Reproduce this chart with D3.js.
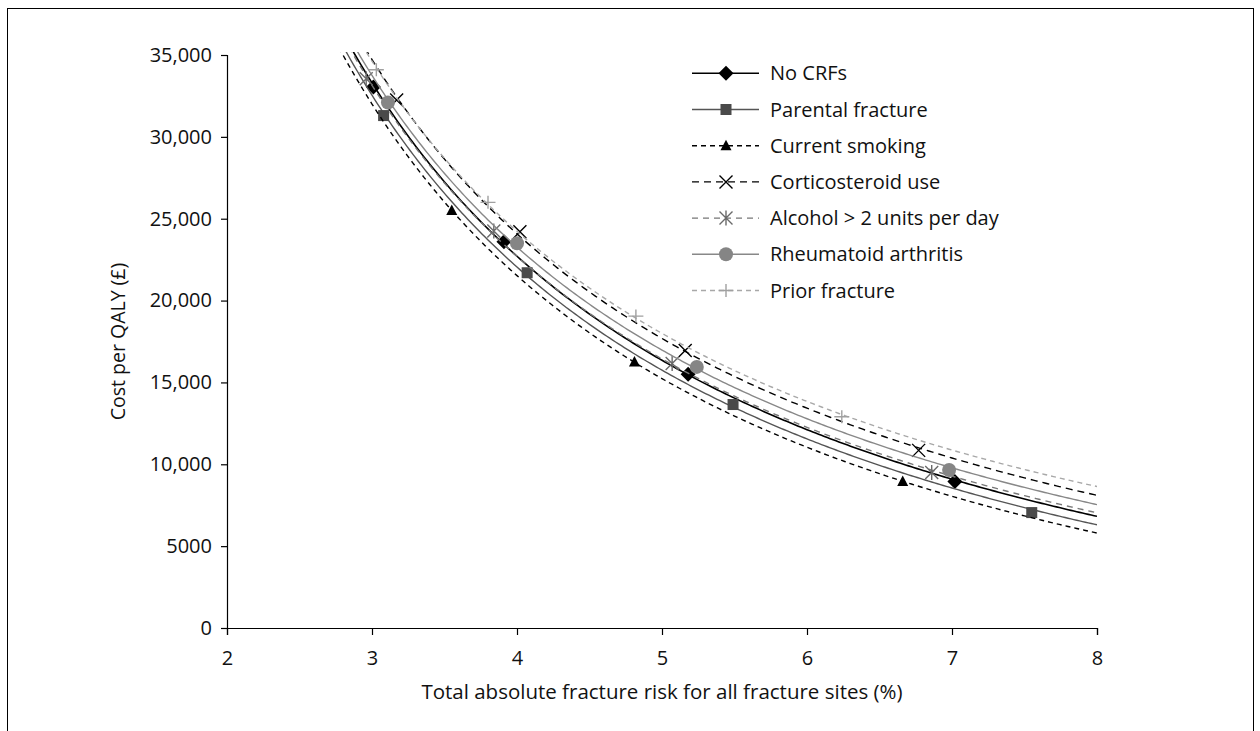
<!DOCTYPE html>
<html>
<head>
<meta charset="utf-8">
<script src="https://cdn.jsdelivr.net/npm/d3@7"></script>
<style>
  body { margin: 0; background: #fff; }
  svg { display: block; }
  text { font-family: "Open Sans", Lato, sans-serif; fill: #111; }
</style>
</head>
<body>
<svg id="chart" width="1260" height="731"></svg>
<script>
// ---- Data: total absolute fracture risk (%) vs cost per QALY (£) ----
const xTicks = [2, 3, 4, 5, 6, 7, 8];
const yTicks = [0, 5000, 10000, 15000, 20000, 25000, 30000, 35000];
const yTickLabels = ["0", "5000", "10,000", "15,000", "20,000", "25,000", "30,000", "35,000"];

const seriesNames = [
  "No CRFs",
  "Parental fracture",
  "Current smoking",
  "Corticosteroid use",
  "Alcohol > 2 units per day",
  "Rheumatoid arthritis",
  "Prior fracture"
];

// [risk %, cost per QALY £]
const noCRFs         = [[3.01, 33050], [3.91, 23600], [5.18, 15500], [7.02, 8950]];
const parentalFx     = [[3.08, 31300], [4.07, 21700], [5.49, 13650], [7.55, 7050]];
const smoking        = [[3.55, 25500], [4.81, 16250], [6.66, 8950]];
const corticosteroid = [[3.17, 32250], [4.02, 24200], [5.16, 16950], [6.77, 10850]];
const alcohol        = [[2.96, 33550], [3.84, 24250], [5.07, 16150], [6.86, 9500]];
const rheumatoid     = [[3.11, 32100], [4.00, 23500], [5.24, 15950], [6.98, 9650]];
const priorFx        = [[3.03, 34100], [3.80, 26000], [4.82, 19050], [6.24, 12900]];

const seriesData = [noCRFs, parentalFx, smoking, corticosteroid, alcohol, rheumatoid, priorFx];

// ---- Appearance per series ----
const styles = [
  { line: "#000",    width: 1.6, dash: null,  marker: "diamond"  },
  { line: "#555",    width: 1.4, dash: null,  marker: "square"   },
  { line: "#000",    width: 1.4, dash: "5,4", marker: "triangle" },
  { line: "#000",    width: 1.4, dash: "7,5", marker: "cross"    },
  { line: "#777",    width: 1.4, dash: "6,5", marker: "asterisk" },
  { line: "#888",    width: 1.4, dash: null,  marker: "circle"   },
  { line: "#a8a8a8", width: 1.4, dash: "5,4", marker: "plus"     }
];

const svg = d3.select("#chart");

// outer frame
svg.append("rect")
  .attr("x", 7.5).attr("y", 8.5)
  .attr("width", 1246).attr("height", 760)
  .attr("fill", "none").attr("stroke", "#000").attr("stroke-width", 1);

const x = d3.scaleLinear().domain([2, 8]).range([227, 1097]);
const y = d3.scaleLinear().domain([0, 35000]).range([628, 55]);

// ---- Axes ----
const fmtY = d => yTickLabels[yTicks.indexOf(d)];

const yAxis = svg.append("g")
  .attr("transform", `translate(${x(2)},0)`)
  .call(d3.axisLeft(y).tickValues(yTicks).tickFormat(fmtY).tickSize(6).tickPadding(9));
const xAxis = svg.append("g")
  .attr("transform", `translate(0,${y(0)})`)
  .call(d3.axisBottom(x).tickValues(xTicks).tickFormat(d3.format("d")).tickSize(7).tickPadding(16));

[xAxis, yAxis].forEach(g => {
  g.select(".domain").attr("stroke", "#000").attr("stroke-width", 1.2);
  g.selectAll(".tick line").attr("stroke", "#000").attr("stroke-width", 1.2);
  g.selectAll(".tick text").attr("font-size", 20)
    .attr("font-family", "'Open Sans', Lato, sans-serif").attr("fill", "#111");
});

svg.append("text")
  .attr("x", (x(2) + x(8)) / 2).attr("y", 699)
  .attr("text-anchor", "middle").attr("font-size", 20.5)
  .text("Total absolute fracture risk for all fracture sites (%)");

svg.append("text")
  .attr("transform", `translate(125,${(y(0) + y(35000)) / 2}) rotate(-90)`)
  .attr("text-anchor", "middle").attr("font-size", 19.5)
  .text("Cost per QALY (£)");

// ---- Fitted curves: cost = a / risk + b (least squares in 1/risk) ----
function fitInverse(points) {
  const u = points.map(p => 1 / p[0]);
  const v = points.map(p => p[1]);
  const mu = d3.mean(u), mv = d3.mean(v);
  let sxy = 0, sxx = 0;
  u.forEach((ui, i) => { sxy += (ui - mu) * (v[i] - mv); sxx += (ui - mu) * (ui - mu); });
  const a = sxy / sxx, b = mv - a * mu;
  return r => a / r + b;
}

svg.append("clipPath").attr("id", "plotClip")
  .append("rect")
  .attr("x", x(2)).attr("y", y(35000) - 3)
  .attr("width", x(8) - x(2)).attr("height", y(0) - y(35000) + 3);

const line = d3.line().x(d => x(d[0])).y(d => y(d[1]));
const riskGrid = d3.range(2.5, 8.0001, 0.02);

// ---- Marker drawing ----
function drawMarker(g, type, cx, cy) {
  const m = g.append("g").attr("transform", `translate(${cx},${cy})`);
  switch (type) {
    case "diamond":
      m.append("path").attr("d", "M0,-7.5L7.5,0L0,7.5L-7.5,0Z").attr("fill", "#000");
      break;
    case "square":
      m.append("rect").attr("x", -5.5).attr("y", -5.5).attr("width", 11).attr("height", 11).attr("fill", "#4a4a4a");
      break;
    case "triangle":
      m.append("path").attr("d", "M0,-6L5.5,4.5L-5.5,4.5Z").attr("fill", "#000");
      break;
    case "cross":
      m.append("path").attr("d", "M-6.5,-6.5L6.5,6.5M-6.5,6.5L6.5,-6.5")
        .attr("stroke", "#000").attr("stroke-width", 1.4).attr("fill", "none");
      break;
    case "asterisk":
      m.append("path").attr("d", "M-6.5,-6.5L6.5,6.5M-6.5,6.5L6.5,-6.5M0,-7.5L0,7.5")
        .attr("stroke", "#6a6a6a").attr("stroke-width", 1.4).attr("fill", "none");
      break;
    case "circle":
      m.append("circle").attr("r", 7).attr("fill", "#858585");
      break;
    case "plus":
      m.append("path").attr("d", "M-7.5,0L7.5,0M0,-6.5L0,6.5")
        .attr("stroke", "#a0a0a0").attr("stroke-width", 1.4).attr("fill", "none");
      break;
  }
}

const plot = svg.append("g").attr("clip-path", "url(#plotClip)");
seriesData.forEach((pts, i) => {
  const st = styles[i];
  const f = fitInverse(pts);
  const curve = riskGrid.map(r => [r, f(r)]);
  const sg = plot.append("g");
  sg.append("path")
    .attr("d", line(curve))
    .attr("fill", "none")
    .attr("stroke", st.line)
    .attr("stroke-width", st.width)
    .attr("stroke-dasharray", st.dash);
  pts.forEach(p => drawMarker(sg, st.marker, x(p[0]), y(p[1])));
});

// ---- Legend ----
const legend = svg.append("g");
seriesNames.forEach((name, i) => {
  const st = styles[i];
  const ly = 73.3 + i * 36.2;
  const row = legend.append("g");
  row.append("line")
    .attr("x1", 692).attr("x2", 759).attr("y1", ly).attr("y2", ly)
    .attr("stroke", st.line).attr("stroke-width", st.width)
    .attr("stroke-dasharray", st.dash);
  drawMarker(row, st.marker, 726, ly);
  row.append("text")
    .attr("x", 770).attr("y", ly).attr("dy", "0.35em")
    .attr("font-size", 20)
    .text(name);
});
</script>
</body>
</html>
